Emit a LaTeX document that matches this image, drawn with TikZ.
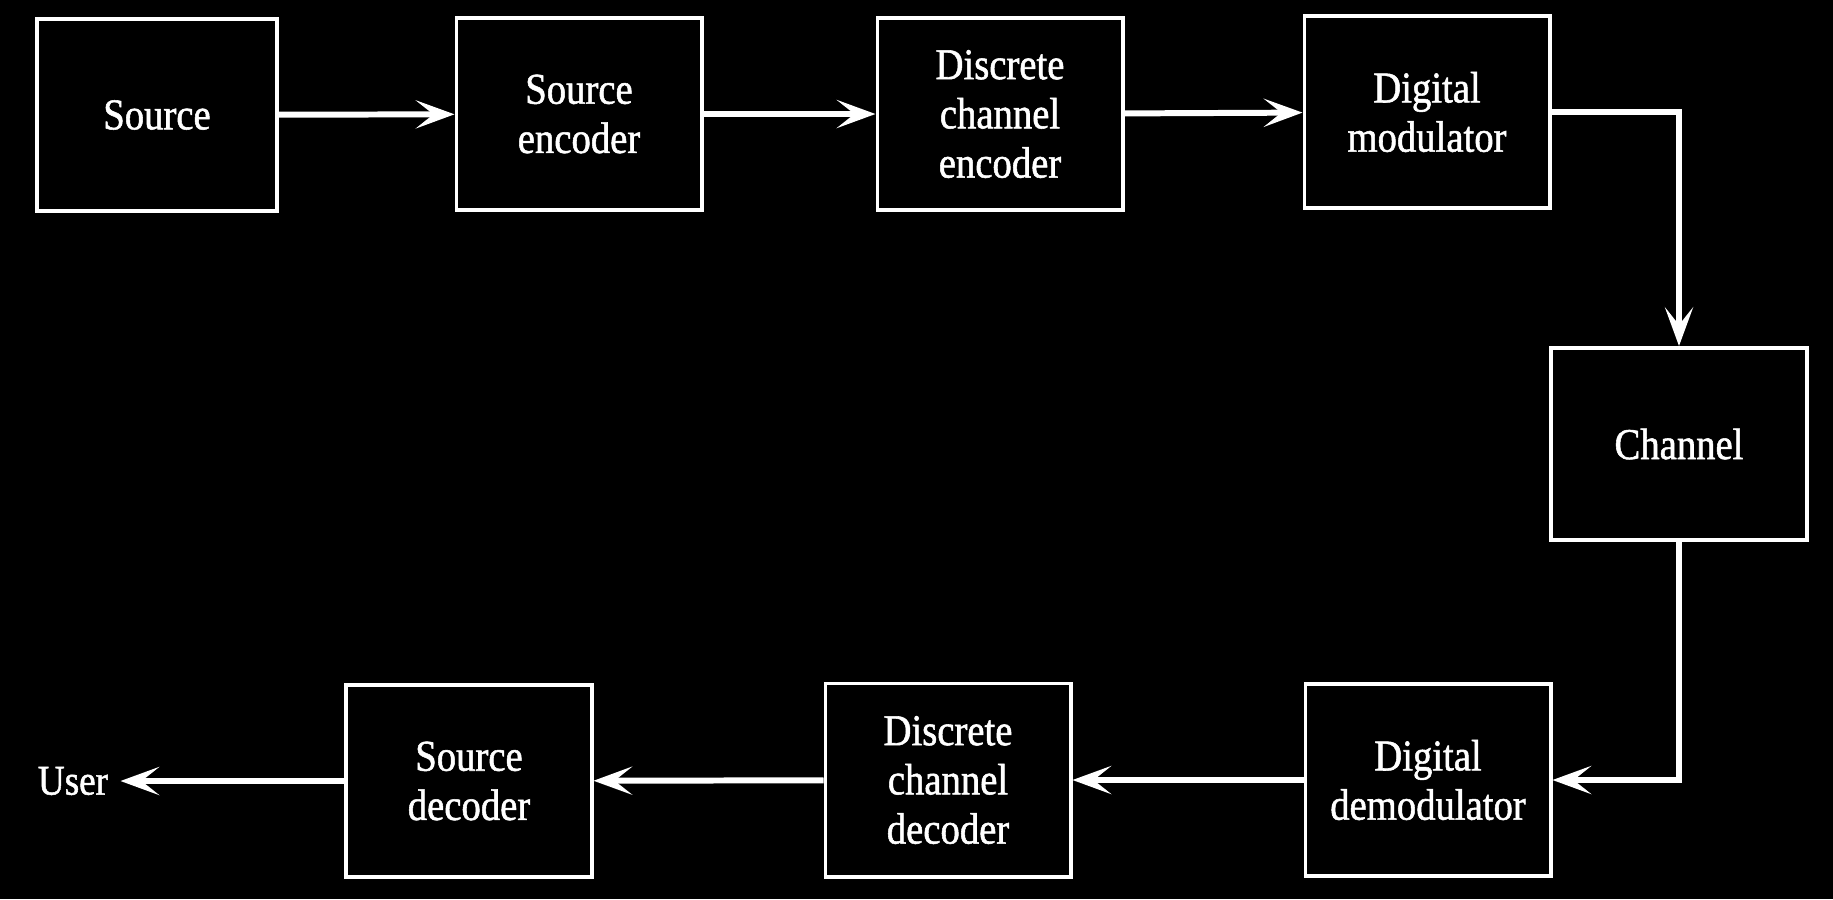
\documentclass[tikz,border=0pt]{standalone}
\usepackage{fontspec}
\setmainfont{Liberation Serif}[FakeStretch=0.88, FakeBold=1.2]
\usetikzlibrary{arrows.meta}

\tikzset{
  block/.style={draw=white, line width=1.1pt, minimum width=2.45cm, minimum height=1.92cm,
    align=center, text=white, font=\fontsize{12.5}{14}\selectfont},
  flow/.style={draw=white, line width=1.7pt,
    -{Stealth[length=11pt, width=8pt, inset=5pt]}}
}

\begin{document}
\begin{tikzpicture}[x=0.01cm, y=-0.01cm]
    \fill[black] (0,0) rectangle (1833,899);
    \useasboundingbox (0,0) rectangle (1833,899);

    % transmitter row
    \node[block, minimum width=2.4cm] (src) at (157,115) {Source};
    \node[block] (srcenc) at (579,114) {Source\\encoder};
    \node[block] (chenc) at (1000,114) {Discrete\\channel\\encoder};
    \node[block] (mod) at (1427,112) {Digital\\modulator};

    \node[block, minimum width=2.56cm] (chan) at (1679,444) {Channel};

    % receiver row
    \node[block] (demod) at (1428,780) {Digital\\demodulator};
    \node[block, minimum height=1.93cm] (chdec) at (948,780) {Discrete\\channel\\decoder};
    \node[block] (srcdec) at (469,781) {Source\\decoder};
    \node[text=white, font=\fontsize{12}{14}\selectfont] (user) at (73,781) {User};

    \draw[flow] (src) -- (srcenc);
    \draw[flow] (srcenc) -- (chenc);
    \draw[flow] (chenc) -- (mod);
    \draw[flow] (mod.east) -| (chan.north);
    \draw[flow] (chan.south) |- (demod.east);
    \draw[flow] (demod) -- (chdec);
    \draw[flow] (chdec) -- (srcdec);
    \draw[flow] (srcdec) -- (user);

\end{tikzpicture}
\end{document}
